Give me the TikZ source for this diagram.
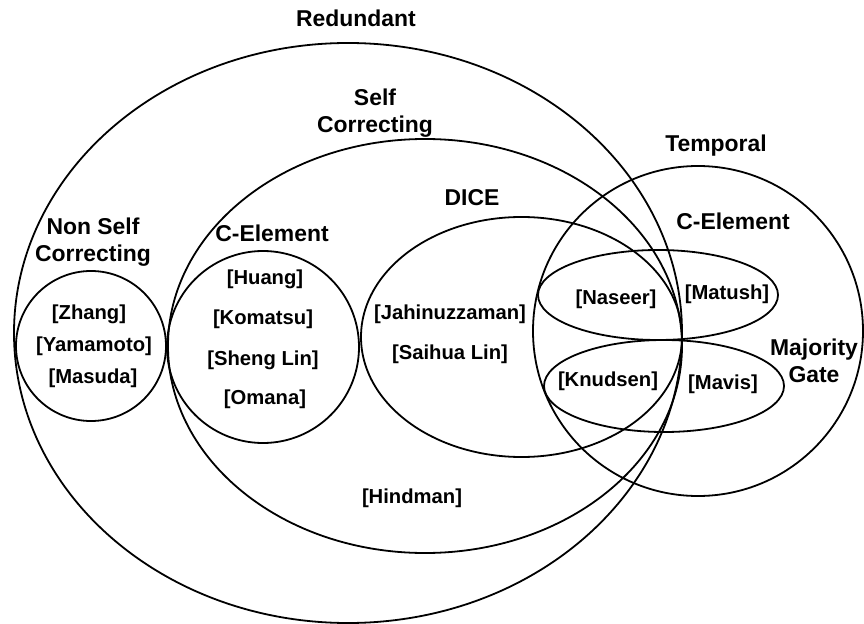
\documentclass[tikz,border=0pt]{standalone}
\usepackage{fontspec}
\setmainfont{Liberation Sans}
\begin{document}
\begin{tikzpicture}[x=1bp,y=-1bp,
  set/.style={draw=black, line width=1.8bp},
  cat/.style={font=\bfseries\fontsize{23}{26.5}\selectfont, align=center, inner sep=0pt},
  ref/.style={font=\bfseries\fontsize{20.3}{24}\selectfont, inner sep=0pt}]
\useasboundingbox (0,0) rectangle (864,624);

% set outlines
\draw[set] (348,333) ellipse [x radius=334bp, y radius=290bp];   % redundant
\draw[set] (425,346) ellipse [x radius=257bp, y radius=207bp];   % self correcting
\draw[set] (521.5,337) ellipse [x radius=160.5bp, y radius=120bp]; % DICE
\draw[set] (91,346) circle [radius=75bp];                        % non self correcting
\draw[set] (263,347) circle [radius=96bp];                       % C-element (self correcting)
\draw[set] (698,331) circle [radius=165bp];                      % temporal
\draw[set] (658,295) ellipse [x radius=120bp, y radius=45bp];    % C-element (temporal)
\draw[set] (664,386) ellipse [x radius=120bp, y radius=46bp];    % majority gate

% category labels
\node[cat] (redundant) at (356,18) {Redundant};
\node[cat] (selfcorr) at (375,113) {Self\\Correcting};
\node[cat] (nonself) at (93,242) {Non Self\\Correcting};
\node[cat] (celemL) at (272,233) {C-Element};
\node[cat] (dice) at (472,198) {DICE};
\node[cat] (temporal) at (716,146) {Temporal};
\node[cat] (celemR) at (733,221) {C-Element};
\node[cat] (majority) at (814,361) {Majority\\Gate};

% references
\node[ref] (zhang) at (89,314) {[Zhang]};
\node[ref] (yamamoto) at (94,346) {[Yamamoto]};
\node[ref] (masuda) at (93,378) {[Masuda]};
\node[ref] (huang) at (265,279) {[Huang]};
\node[ref] (komatsu) at (263,319) {[Komatsu]};
\node[ref] (shenglin) at (263,360) {[Sheng Lin]};
\node[ref] (omana) at (265,399) {[Omana]};
\node[ref] (jahin) at (450,314) {[Jahinuzzaman]};
\node[ref] (saihua) at (450,354) {[Saihua Lin]};
\node[ref] (hindman) at (412,498) {[Hindman]};
\node[ref] (naseer) at (616,299) {[Naseer]};
\node[ref] (matush) at (727,294) {[Matush]};
\node[ref] (knudsen) at (608,381) {[Knudsen]};
\node[ref] (mavis) at (723,384) {[Mavis]};
\end{tikzpicture}
\end{document}
